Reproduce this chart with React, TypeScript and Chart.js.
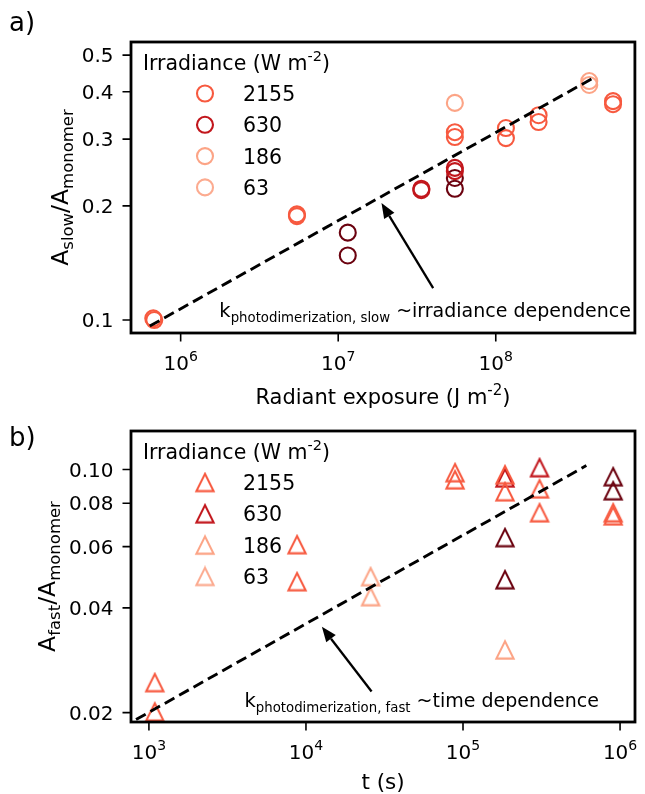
import React, { useEffect, useRef } from 'react';
import { Chart, registerables } from 'chart.js';

Chart.register(...registerables);

const FONT = '"DejaVu Sans", Verdana, sans-serif';

// ---------- shared ----------
const IRRADIANCE_LABELS = ['2155', '630', '186', '63'];
const IRRADIANCE_COLORS = ['#f7593f', '#c2161c', '#fca486', '#fcab90'];
const DARK_COLOR = '#6b020f';

// ---------- panel a: A_slow / A_monomer vs radiant exposure ----------
const SLOW_X_TICKS = [1e6, 1e7, 1e8];
const SLOW_Y_TICKS = [0.1, 0.2, 0.3, 0.4, 0.5];
const SLOW_Y_TICK_LABELS = ['0.1', '0.2', '0.3', '0.4', '0.5'];
const SLOW_X_RANGE = [4.84e5, 7.64e8];
const SLOW_Y_RANGE = [0.0924, 0.5414];

const slowX2155 = [6.8e5, 6.7e5, 5.47e6, 5.47e6, 5.5e7, 5.5e7, 1.16e8, 1.16e8, 1.87e8, 1.87e8, 5.55e8, 5.55e8];
const slowY2155 = [0.1, 0.101, 0.19, 0.188, 0.313, 0.304, 0.321, 0.302, 0.347, 0.333, 0.378, 0.371];
const slowX630 = [3.37e7, 3.37e7, 5.5e7, 5.5e7];
const slowY630 = [0.222, 0.22, 0.252, 0.247];
const slowXDark = [1.15e7, 1.15e7, 5.5e7, 5.5e7];
const slowYDark = [0.17, 0.148, 0.237, 0.222];
const slowXLight = [5.5e7, 3.92e8, 3.92e8];
const slowYLight = [0.374, 0.427, 0.417];
const slowFitX = [6.37e5, 4.28e8];
const slowFitY = [0.0964, 0.438];

// ---------- panel b: A_fast / A_monomer vs time ----------
const FAST_X_TICKS = [1e3, 1e4, 1e5, 1e6];
const FAST_Y_TICKS = [0.02, 0.04, 0.06, 0.08, 0.1];
const FAST_Y_TICK_LABELS = ['0.02', '0.04', '0.06', '0.08', '0.10'];
const FAST_X_RANGE = [769, 1.245e6];
const FAST_Y_RANGE = [0.0188, 0.129];

const fastX2155 = [1.09e3, 1.09e3, 8.77e3, 8.77e3, 8.9e4, 8.9e4, 1.85e5, 1.85e5, 3.07e5, 3.07e5, 9.04e5, 9.04e5];
const fastY2155 = [0.0244, 0.0201, 0.0608, 0.0476, 0.0979, 0.0934, 0.0966, 0.0863, 0.088, 0.0751, 0.0751, 0.0736];
const fastX630 = [1.85e5, 3.07e5];
const fastY630 = [0.0946, 0.1012];
const fastXDark = [1.85e5, 1.85e5, 9.04e5, 9.04e5];
const fastYDark = [0.0637, 0.0482, 0.0953, 0.0869];
const fastXLight = [2.58e4, 2.58e4, 1.85e5];
const fastYLight = [0.0492, 0.0431, 0.0303];
const fastFitX = [828, 6.1e5];
const fastFitY = [0.0191, 0.1026];

type Part = { t: string; s: number; dy: number };

interface PanelSpec {
  letter: string;
  letterBaseline: number;
  marker: 'circle' | 'triangle';
  xTicks: number[];
  yTicks: number[];
  yTickLabels: string[];
  xRange: number[];
  yRange: number[];
  padTop: number;
  xAxisHeight: number;
  xLabel: Part[];
  xLabelOffset: number;
  yLabel: Part[];
  annotText: Part[];
  annotAt: number[];
  arrowFrom: number[];
  arrowTo: number[];
  series: { xs: number[]; ys: number[]; color: string }[];
  fitX: number[];
  fitY: number[];
}

const pts = (xs: number[], ys: number[]) => xs.map((x, i) => ({ x, y: ys[i] }));

function makeTriangle(color: string): HTMLCanvasElement {
  const c = document.createElement('canvas');
  c.width = 22;
  c.height = 22;
  const g = c.getContext('2d')!;
  g.strokeStyle = color;
  g.lineWidth = 2.1;
  g.lineJoin = 'miter';
  g.beginPath();
  g.moveTo(11, 2.4);
  g.lineTo(2.4, 19.6);
  g.lineTo(19.6, 19.6);
  g.closePath();
  g.stroke();
  return c;
}

function richWidth(ctx: CanvasRenderingContext2D, parts: Part[]) {
  let w = 0;
  for (const p of parts) {
    ctx.font = `${p.s}px ${FONT}`;
    w += ctx.measureText(p.t).width;
  }
  return w;
}

function drawRich(ctx: CanvasRenderingContext2D, parts: Part[], x: number, y: number, align: 'left' | 'center' | 'right') {
  const w = richWidth(ctx, parts);
  let cx = align === 'left' ? x : align === 'center' ? x - w / 2 : x - w;
  ctx.textAlign = 'left';
  ctx.textBaseline = 'alphabetic';
  for (const p of parts) {
    ctx.font = `${p.s}px ${FONT}`;
    ctx.fillText(p.t, cx, y + p.dy);
    cx += ctx.measureText(p.t).width;
  }
}

function makeDecor(spec: PanelSpec) {
  return {
    id: 'decor',
    afterDraw(chart: any) {
      const ctx: CanvasRenderingContext2D = chart.ctx;
      const a = chart.chartArea;
      const xs = chart.scales.x;
      const ys = chart.scales.y;
      ctx.save();
      ctx.fillStyle = '#000';
      ctx.strokeStyle = '#000';

      // tick marks
      ctx.lineWidth = 1.6;
      ctx.beginPath();
      for (const v of spec.xTicks) {
        const px = xs.getPixelForValue(v);
        ctx.moveTo(px, a.bottom);
        ctx.lineTo(px, a.bottom + 8.5);
      }
      for (const v of spec.yTicks) {
        const py = ys.getPixelForValue(v);
        ctx.moveTo(a.left, py);
        ctx.lineTo(a.left - 8.5, py);
      }
      ctx.stroke();

      // spines
      ctx.lineWidth = 2.8;
      ctx.strokeRect(a.left, a.top, a.right - a.left, a.bottom - a.top);

      // x tick labels (10^n)
      for (const v of spec.xTicks) {
        const px = xs.getPixelForValue(v);
        const e = String(Math.round(Math.log10(v)));
        drawRich(ctx, [{ t: '10', s: 20, dy: 0 }, { t: e, s: 14, dy: -9.5 }], px, a.bottom + 37, 'center');
      }
      // y tick labels
      let maxW = 0;
      spec.yTicks.forEach((v, i) => {
        const py = ys.getPixelForValue(v);
        ctx.font = `20px ${FONT}`;
        maxW = Math.max(maxW, ctx.measureText(spec.yTickLabels[i]).width);
        drawRich(ctx, [{ t: spec.yTickLabels[i], s: 20, dy: 0 }], a.left - 17.5, py + 7.3, 'right');
      });

      // axis labels
      drawRich(ctx, spec.xLabel, (a.left + a.right) / 2, a.bottom + spec.xLabelOffset, 'center');
      ctx.save();
      ctx.translate(a.left - 17.5 - maxW - 14, (a.top + a.bottom) / 2);
      ctx.rotate(-Math.PI / 2);
      drawRich(ctx, spec.yLabel, 0, 0, 'center');
      ctx.restore();

      // panel letter
      drawRich(ctx, [{ t: spec.letter, s: 26, dy: 0 }], 9, spec.letterBaseline, 'left');

      // legend
      const lx = a.left + 12;
      drawRich(
        ctx,
        [
          { t: 'Irradiance (W m', s: 20.5, dy: 0 },
          { t: '-2', s: 14.5, dy: -8.5 },
          { t: ')', s: 20.5, dy: 0 },
        ],
        lx,
        a.top + 27.5,
        'left'
      );
      IRRADIANCE_LABELS.forEach((lab, i) => {
        const cy = a.top + 51.5 + i * 31.3;
        const mx = a.left + 74;
        if (spec.marker === 'circle') {
          ctx.save();
          ctx.strokeStyle = IRRADIANCE_COLORS[i];
          ctx.lineWidth = 2.1;
          ctx.beginPath();
          ctx.arc(mx, cy, 8, 0, Math.PI * 2);
          ctx.stroke();
          ctx.restore();
        } else {
          const img = makeTriangle(IRRADIANCE_COLORS[i]);
          ctx.drawImage(img, mx - 11, cy - 11);
        }
        ctx.fillStyle = '#000';
        drawRich(ctx, [{ t: lab, s: 20.5, dy: 0 }], a.left + 112, cy + 7.5, 'left');
      });

      // annotation text + arrow
      const tx = xs.getPixelForValue(spec.annotAt[0]);
      const ty = ys.getPixelForValue(spec.annotAt[1]);
      drawRich(ctx, spec.annotText, tx, ty, 'left');
      const x0 = xs.getPixelForValue(spec.arrowFrom[0]);
      const y0 = ys.getPixelForValue(spec.arrowFrom[1]);
      const x1 = xs.getPixelForValue(spec.arrowTo[0]);
      const y1 = ys.getPixelForValue(spec.arrowTo[1]);
      const ang = Math.atan2(y1 - y0, x1 - x0);
      const hl = 15;
      const hw = 6;
      const bx = x1 - Math.cos(ang) * hl;
      const by = y1 - Math.sin(ang) * hl;
      ctx.lineWidth = 2.3;
      ctx.beginPath();
      ctx.moveTo(x0, y0);
      ctx.lineTo(bx, by);
      ctx.stroke();
      ctx.beginPath();
      ctx.moveTo(x1, y1);
      ctx.lineTo(bx + Math.sin(ang) * hw, by - Math.cos(ang) * hw);
      ctx.lineTo(bx - Math.sin(ang) * hw, by + Math.cos(ang) * hw);
      ctx.closePath();
      ctx.fill();

      ctx.restore();
    },
  };
}

const SPEC_A: PanelSpec = {
  letter: 'a)',
  letterBaseline: 31,
  marker: 'circle',
  xTicks: SLOW_X_TICKS,
  yTicks: SLOW_Y_TICKS,
  yTickLabels: SLOW_Y_TICK_LABELS,
  xRange: SLOW_X_RANGE,
  yRange: SLOW_Y_RANGE,
  padTop: 42,
  xAxisHeight: 430 - 333,
  xLabel: [
    { t: 'Radiant exposure (J m', s: 21, dy: 0 },
    { t: '-2', s: 15, dy: -9 },
    { t: ')', s: 21, dy: 0 },
  ],
  xLabelOffset: 71,
  yLabel: [
    { t: 'A', s: 23.5, dy: 0 },
    { t: 'slow', s: 16.5, dy: 5 },
    { t: '/A', s: 23.5, dy: 0 },
    { t: 'monomer', s: 16.5, dy: 5 },
  ],
  annotText: [
    { t: 'k', s: 19.5, dy: 0 },
    { t: 'photodimerization, slow', s: 13.3, dy: 5 },
    { t: ' ~irradiance dependence', s: 19, dy: 0 },
  ],
  annotAt: [1.76e6, 0.1018],
  arrowFrom: [4.005e7, 0.1214],
  arrowTo: [1.882e7, 0.2036],
  series: [
    { xs: slowX2155, ys: slowY2155, color: IRRADIANCE_COLORS[0] },
    { xs: slowX630, ys: slowY630, color: IRRADIANCE_COLORS[1] },
    { xs: slowXDark, ys: slowYDark, color: DARK_COLOR },
    { xs: slowXLight, ys: slowYLight, color: IRRADIANCE_COLORS[2] },
  ],
  fitX: slowFitX,
  fitY: slowFitY,
};

const SPEC_B: PanelSpec = {
  letter: 'b)',
  letterBaseline: 49,
  marker: 'triangle',
  xTicks: FAST_X_TICKS,
  yTicks: FAST_Y_TICKS,
  yTickLabels: FAST_Y_TICK_LABELS,
  xRange: FAST_X_RANGE,
  yRange: FAST_Y_RANGE,
  padTop: 431 - 397,
  xAxisHeight: 397 - (722 - 397),
  xLabel: [{ t: 't (s)', s: 21.5, dy: 0 }],
  xLabelOffset: 67,
  yLabel: [
    { t: 'A', s: 23.5, dy: 0 },
    { t: 'fast', s: 16.5, dy: 5 },
    { t: '/A', s: 23.5, dy: 0 },
    { t: 'monomer', s: 16.5, dy: 5 },
  ],
  annotText: [
    { t: 'k', s: 19.5, dy: 0 },
    { t: 'photodimerization, fast', s: 13.3, dy: 5 },
    { t: ' ~time dependence', s: 19, dy: 0 },
  ],
  annotAt: [4.06e3, 0.0208],
  arrowFrom: [2.617e4, 0.023],
  arrowTo: [1.263e4, 0.0353],
  series: [
    { xs: fastX2155, ys: fastY2155, color: IRRADIANCE_COLORS[0] },
    { xs: fastX630, ys: fastY630, color: IRRADIANCE_COLORS[1] },
    { xs: fastXDark, ys: fastYDark, color: DARK_COLOR },
    { xs: fastXLight, ys: fastYLight, color: IRRADIANCE_COLORS[2] },
  ],
  fitX: fastFitX,
  fitY: fastFitY,
};

function Panel({ spec, top, height }: { spec: PanelSpec; top: number; height: number }) {
  const ref = useRef<HTMLCanvasElement | null>(null);
  useEffect(() => {
    if (!ref.current) return;
    const datasets: any[] = [
      {
        data: pts(spec.fitX, spec.fitY),
        showLine: true,
        borderColor: '#000',
        borderWidth: 2.9,
        borderDash: [11, 5.5],
        pointRadius: 0,
        fill: false,
      },
    ];
    for (const s of spec.series) {
      if (spec.marker === 'circle') {
        datasets.push({
          data: pts(s.xs, s.ys),
          pointStyle: 'circle',
          pointRadius: 8,
          pointBorderWidth: 2.1,
          pointBorderColor: s.color,
          pointBackgroundColor: 'rgba(0,0,0,0)',
          showLine: false,
        });
      } else {
        datasets.push({
          data: pts(s.xs, s.ys),
          pointStyle: makeTriangle(s.color),
          pointRadius: 9,
          showLine: false,
        });
      }
    }
    const chart = new Chart(ref.current, {
      type: 'scatter',
      data: { datasets },
      plugins: [makeDecor(spec)],
      options: {
        animation: false,
        responsive: false,
        devicePixelRatio: 1,
        layout: { padding: { top: spec.padTop, right: 7, left: 0, bottom: 0 } },
        plugins: { legend: { display: false }, tooltip: { enabled: false } },
        events: [],
        scales: {
          x: {
            type: 'logarithmic',
            min: spec.xRange[0],
            max: spec.xRange[1],
            bounds: 'data',
            grid: { display: false },
            border: { display: false },
            ticks: { display: false },
            afterFit: (s: any) => {
              s.height = spec.xAxisHeight;
            },
          },
          y: {
            type: 'logarithmic',
            min: spec.yRange[0],
            max: spec.yRange[1],
            bounds: 'data',
            grid: { display: false },
            border: { display: false },
            ticks: { display: false },
            afterFit: (s: any) => {
              s.width = 131;
            },
          },
        },
      } as any,
    });
    return () => chart.destroy();
  }, [spec]);
  return (
    <canvas
      ref={ref}
      width={645}
      height={height}
      style={{ position: 'absolute', left: 0, top, width: 645, height }}
    />
  );
}

export default function App() {
  return (
    <div style={{ position: 'absolute', left: 0, top: 0, width: 645, height: 794, background: '#fff' }}>
      <Panel spec={SPEC_A} top={0} height={430} />
      <Panel spec={SPEC_B} top={397} height={397} />
    </div>
  );
}
